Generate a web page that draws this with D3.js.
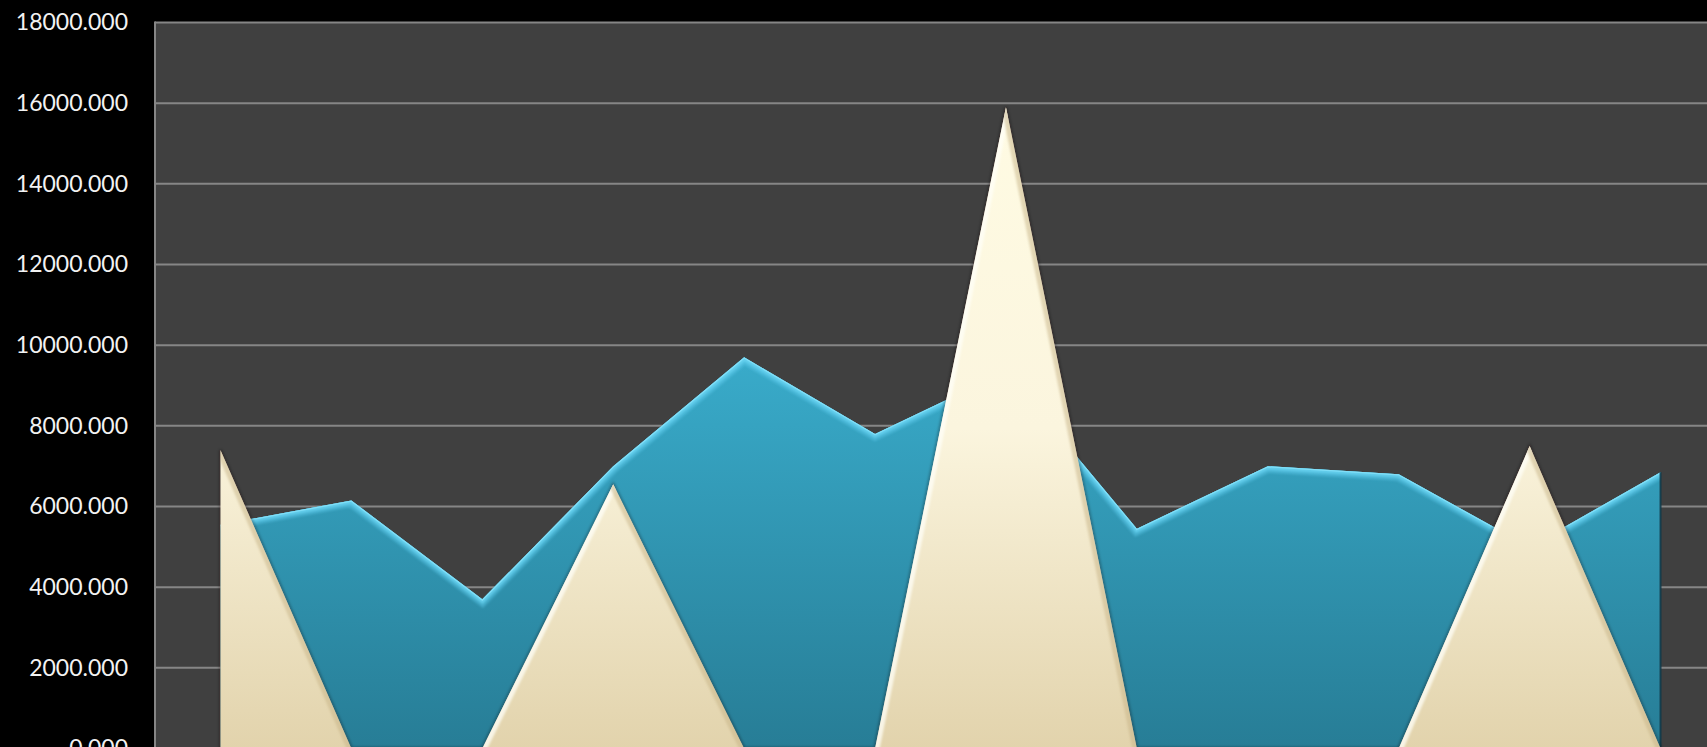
<!DOCTYPE html>
<html>
<head>
<meta charset="utf-8">
<script src="https://cdn.jsdelivr.net/npm/d3@7"></script>
<style>
  html, body { margin: 0; padding: 0; background: #000; overflow: hidden; }
  svg { display: block; }
</style>
</head>
<body>
<svg id="chart" width="1707" height="747"></svg>
<script>
// ---- data ----
const categories = ["1", "2", "3", "4", "5", "6", "7", "8", "9", "10", "11", "12"];
const seriesBlue = [5550, 6150, 3700, 7000, 9700, 7800, 9350, 5450, 7000, 6800, 5000, 6850];
const seriesCream = [7400, 0, 0, 6550, 0, 0, 15900, 0, 0, 0, 7500, 0];
const yTicks = [0, 2000, 4000, 6000, 8000, 10000, 12000, 14000, 16000, 18000];

// ---- layout ----
const W = 1707, H = 747;
const plot = { left: 155, right: 1726, top: 22.5, bottom: 748.5 };

const svg = d3.select("#chart");
const defs = svg.append("defs");

const x = d3.scalePoint().domain(categories).range([plot.left, plot.right]).padding(0.5);
const y = d3.scaleLinear().domain([0, 18000]).range([plot.bottom, plot.top]);

const blueData = categories.map((c, i) => ({ c, v: seriesBlue[i] }));
const creamData = categories.map((c, i) => ({ c, v: seriesCream[i] }));

const area = d3.area().x(d => x(d.c)).y0(y(0)).y1(d => y(d.v));
const line = d3.line().x(d => x(d.c)).y(d => y(d.v));

// gradients
const gBlue = defs.append("linearGradient").attr("id", "gBlue")
  .attr("gradientUnits", "userSpaceOnUse").attr("x1", 0).attr("x2", 0)
  .attr("y1", y(9700)).attr("y2", y(0));
gBlue.append("stop").attr("offset", "0%").attr("stop-color", "#39abca");
gBlue.append("stop").attr("offset", "100%").attr("stop-color", "#277d96");

const gCream = defs.append("linearGradient").attr("id", "gCream")
  .attr("gradientUnits", "userSpaceOnUse").attr("x1", 0).attr("x2", 0)
  .attr("y1", y(15900)).attr("y2", y(0));
gCream.append("stop").attr("offset", "0%").attr("stop-color", "#fffbe3");
gCream.append("stop").attr("offset", "50%").attr("stop-color", "#fbf5de");
gCream.append("stop").attr("offset", "100%").attr("stop-color", "#e2d3ac");

const blur1 = defs.append("filter").attr("id", "blur1").attr("x", "-10%").attr("y", "-10%").attr("width", "120%").attr("height", "120%");
blur1.append("feGaussianBlur").attr("stdDeviation", 0.9);
const blur2 = defs.append("filter").attr("id", "blur2").attr("x", "-10%").attr("y", "-10%").attr("width", "120%").attr("height", "120%");
blur2.append("feGaussianBlur").attr("stdDeviation", 1.6);

defs.append("clipPath").attr("id", "clipBlue").append("path").attr("d", area(blueData));
defs.append("clipPath").attr("id", "clipCream").append("path").attr("d", area(creamData));

// ---- plot background ----
svg.append("rect").attr("x", plot.left).attr("y", plot.top)
  .attr("width", plot.right - plot.left).attr("height", plot.bottom - plot.top)
  .attr("fill", "#404040");

// gridlines
svg.append("g").selectAll("line").data(yTicks).join("line")
  .attr("x1", plot.left).attr("x2", plot.right)
  .attr("y1", d => y(d)).attr("y2", d => y(d))
  .attr("stroke", "#868686").attr("stroke-width", 2);

// left axis line
svg.append("line").attr("x1", plot.left).attr("x2", plot.left)
  .attr("y1", plot.top - 1).attr("y2", plot.bottom)
  .attr("stroke", "#868686").attr("stroke-width", 2);

// y axis labels
const yAxis = d3.axisLeft(y).tickValues(yTicks).tickFormat(d3.format(".3f")).tickSize(0).tickPadding(27);
const gy = svg.append("g").attr("transform", `translate(${plot.left},0)`).call(yAxis);
gy.select(".domain").remove();
gy.selectAll("text").attr("fill", "#f2f2f2")
  .style("font-family", "Lato, 'Open Sans', sans-serif").style("font-size", "23px");

// ---- blue series ----
const gB = svg.append("g");
gB.append("path").attr("d", area(blueData)).attr("fill", "url(#gBlue)");
const gBbev = gB.append("g").attr("clip-path", "url(#clipBlue)");
gBbev.append("path").attr("d", line(blueData)).attr("fill", "none")
  .attr("stroke", "rgba(95,205,238,0.45)").attr("stroke-width", 13).attr("stroke-linejoin", "miter").attr("filter", "url(#blur1)");
gBbev.append("path").attr("d", line(blueData)).attr("fill", "none")
  .attr("stroke", "rgba(105,212,242,0.8)").attr("stroke-width", 7).attr("stroke-linejoin", "miter").attr("filter", "url(#blur1)");
gBbev.append("path").attr("d", line(blueData)).attr("fill", "none")
  .attr("stroke", "#80def7").attr("stroke-width", 2.5).attr("stroke-linejoin", "miter");
// right-edge shade
const lastB = blueData[blueData.length - 1];
gBbev.append("line")
  .attr("x1", x(lastB.c)).attr("x2", x(lastB.c))
  .attr("y1", y(lastB.v)).attr("y2", y(0))
  .attr("stroke", "rgba(20,70,90,0.55)").attr("stroke-width", 10).attr("filter", "url(#blur2)");
gB.append("line")
  .attr("x1", x(lastB.c)).attr("x2", x(lastB.c))
  .attr("y1", y(lastB.v)).attr("y2", y(0))
  .attr("stroke", "rgba(15,55,70,0.85)").attr("stroke-width", 2);

// ---- cream series ----
const gC = svg.append("g");
// soft outer shadow
gC.append("path").attr("d", area(creamData)).attr("fill", "none")
  .attr("stroke", "rgba(20,15,5,0.38)").attr("stroke-width", 2.5).attr("filter", "url(#blur2)");
gC.append("path").attr("d", area(creamData)).attr("fill", "url(#gCream)");
const gCbev = gC.append("g").attr("clip-path", "url(#clipCream)");
const segs = [];
for (let i = 0; i < creamData.length - 1; i++) {
  const a = creamData[i], b = creamData[i + 1];
  if (a.v === b.v) continue;
  segs.push({ a, b, rising: b.v > a.v });
}
gCbev.selectAll("line.bev").data(segs).join("line").attr("class", "bev")
  .attr("x1", d => x(d.a.c)).attr("y1", d => y(d.a.v))
  .attr("x2", d => x(d.b.c)).attr("y2", d => y(d.b.v))
  .attr("stroke", d => d.rising ? "rgba(255,255,248,0.75)" : "rgba(200,180,135,0.5)")
  .attr("stroke-width", 9).attr("filter", "url(#blur1)");
// first point (left vertical edge) highlight
const firstC = creamData[0];
gCbev.append("line")
  .attr("x1", x(firstC.c)).attr("x2", x(firstC.c))
  .attr("y1", y(firstC.v)).attr("y2", y(0))
  .attr("stroke", "rgba(255,255,248,0.6)").attr("stroke-width", 8).attr("filter", "url(#blur1)");
// bottom edge
gCbev.append("line")
  .attr("x1", plot.left).attr("x2", plot.right)
  .attr("y1", y(0)).attr("y2", y(0))
  .attr("stroke", "rgba(190,170,120,0.5)").attr("stroke-width", 10).attr("filter", "url(#blur1)");
</script>
</body>
</html>
